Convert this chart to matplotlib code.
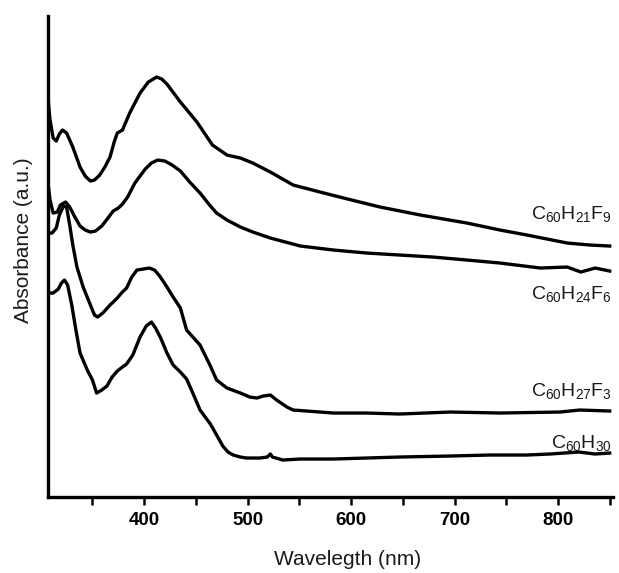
import matplotlib
matplotlib.use("Agg")
import matplotlib.pyplot as plt
from matplotlib.ticker import MultipleLocator, NullFormatter

plt.rcParams['font.family'] = ['Liberation Sans', 'DejaVu Sans']
plt.rcParams['mathtext.fontset'] = 'custom'
plt.rcParams['mathtext.rm'] = 'Liberation Sans'

# absorbance in arbitrary units
wl_f9 = [307, 309, 312, 315, 318, 321, 325, 331, 338, 343, 348, 352, 357, 362,
         367, 371, 374, 379, 386, 396, 404, 412, 417, 422, 435, 451, 466, 480,
         493, 505, 522, 544, 570, 589, 628, 667, 712, 744, 770, 809, 831, 850]
abs_f9 = [3.99, 3.77, 3.59, 3.56, 3.63, 3.67, 3.64, 3.50, 3.30, 3.21, 3.16, 3.17,
          3.22, 3.30, 3.40, 3.55, 3.64, 3.67, 3.84, 4.04, 4.15, 4.20, 4.18, 4.13,
          3.95, 3.75, 3.52, 3.42, 3.39, 3.34, 3.25, 3.12, 3.05, 3.00, 2.90, 2.82,
          2.74, 2.67, 2.62, 2.54, 2.52, 2.51]

wl_f6 = [307, 309, 312, 316, 319, 324, 328, 333, 338, 343, 348, 353, 359, 365,
         370, 375, 379, 384, 391, 401, 407, 413, 420, 427, 435, 444, 454, 464,
         470, 480, 493, 505, 522, 551, 583, 615, 647, 679, 712, 744, 783, 809,
         822, 836, 850]
abs_f6 = [3.14, 2.97, 2.84, 2.85, 2.92, 2.95, 2.90, 2.80, 2.71, 2.67, 2.65, 2.66,
          2.71, 2.79, 2.86, 2.89, 2.93, 3.00, 3.14, 3.28, 3.34, 3.37, 3.36, 3.32,
          3.26, 3.15, 3.04, 2.91, 2.84, 2.77, 2.70, 2.65, 2.59, 2.51, 2.47, 2.44,
          2.42, 2.40, 2.37, 2.34, 2.29, 2.30, 2.25, 2.29, 2.26]

wl_f3 = [307, 311, 315, 318, 322, 325, 328, 331, 335, 341, 348, 352, 355, 360,
         367, 374, 378, 383, 388, 393, 399, 405, 410, 415, 422, 428, 435, 441,
         454, 464, 470, 480, 493, 502, 509, 515, 522, 528, 538, 544, 583, 615,
         647, 696, 744, 802, 821, 850]
abs_f3 = [2.64, 2.64, 2.69, 2.82, 2.91, 2.90, 2.72, 2.52, 2.30, 2.10, 1.92, 1.82,
          1.80, 1.84, 1.92, 1.99, 2.04, 2.09, 2.20, 2.27, 2.28, 2.29, 2.27, 2.21,
          2.10, 2.00, 1.89, 1.67, 1.52, 1.31, 1.17, 1.09, 1.04, 1.00, 0.99, 1.01,
          1.02, 0.97, 0.90, 0.87, 0.84, 0.84, 0.83, 0.85, 0.84, 0.85, 0.87, 0.86]

wl_h30 = [307, 312, 317, 320, 323, 326, 330, 334, 338, 345, 350, 354, 359, 364,
          369, 374, 379, 383, 389, 396, 402, 407, 411, 416, 422, 428, 435, 441,
          447, 454, 464, 470, 476, 481, 486, 493, 499, 512, 519, 522, 524, 534,
          551, 583, 615, 647, 696, 734, 770, 792, 820, 836, 850]
abs_h30 = [2.04, 2.04, 2.08, 2.14, 2.17, 2.12, 1.92, 1.67, 1.44, 1.27, 1.17, 1.04,
           1.07, 1.11, 1.20, 1.26, 1.30, 1.33, 1.42, 1.60, 1.71, 1.75, 1.69, 1.59,
           1.44, 1.32, 1.25, 1.18, 1.04, 0.87, 0.73, 0.62, 0.51, 0.45, 0.42, 0.40,
           0.39, 0.39, 0.40, 0.43, 0.40, 0.37, 0.38, 0.38, 0.39, 0.40, 0.41, 0.42,
           0.42, 0.43, 0.45, 0.43, 0.44]

labels = [r'$\mathregular{C_{60}H_{21}F_{9}}$', r'$\mathregular{C_{60}H_{24}F_{6}}$',
          r'$\mathregular{C_{60}H_{27}F_{3}}$', r'$\mathregular{C_{60}H_{30}}$']
label_y = [2.78, 1.98, 1.01, 0.49]

fig = plt.figure(figsize=(6.19, 5.73), dpi=100)
ax = fig.add_axes([0.0775, 0.1326, 0.9125, 0.8394])

for wl, a in [(wl_f9, abs_f9), (wl_f6, abs_f6), (wl_f3, abs_f3), (wl_h30, abs_h30)]:
    ax.plot(wl, a, color='black', lw=2.4, solid_joinstyle='round')

for txt, y in zip(labels, label_y):
    ax.text(852, y, txt, ha='right', va='baseline', fontsize=14, color='#1a1a1a')

ax.set_xlim(307, 853)
ax.set_ylim(0, 4.81)
ax.spines['top'].set_visible(False)
ax.spines['right'].set_visible(False)
ax.spines['left'].set_linewidth(2.4)
ax.spines['bottom'].set_linewidth(2.4)
ax.set_yticks([])
ax.xaxis.set_major_locator(MultipleLocator(100))
ax.xaxis.set_minor_locator(MultipleLocator(50))
ax.xaxis.set_minor_formatter(NullFormatter())
ax.tick_params(axis='x', which='both', direction='out', length=6, width=1.8, pad=5)
for lab in ax.get_xticklabels():
    lab.set_fontweight('bold')
    lab.set_fontsize(13.5)

ax.set_xlabel('Wavelegth (nm)', fontsize=15, color='#1a1a1a')
ax.set_ylabel('Absorbance (a.u.)', fontsize=15, color='#1a1a1a')
ax.xaxis.set_label_coords(0.531, -0.11)
ax.yaxis.set_label_coords(-0.027, 0.534)

fig.savefig('out.png', dpi=100)
